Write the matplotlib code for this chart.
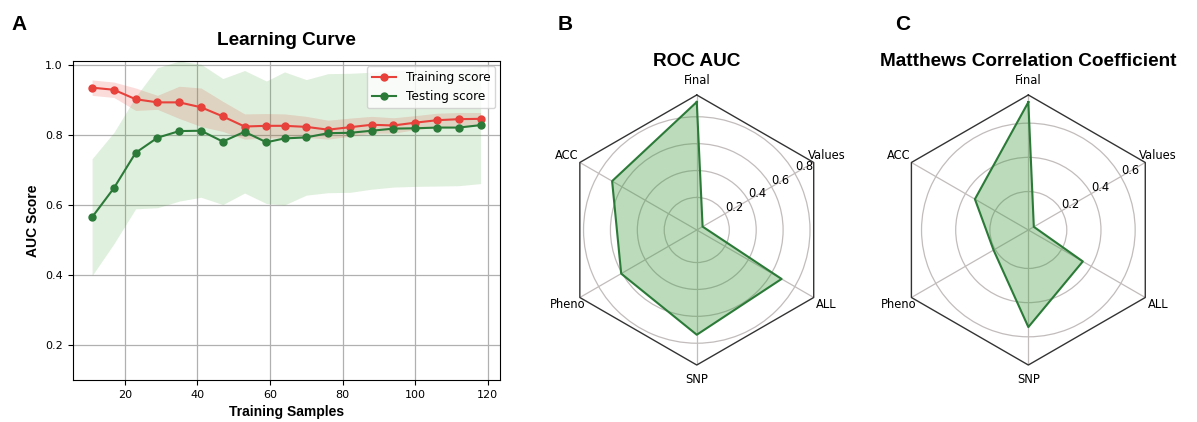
import numpy as np
import matplotlib
matplotlib.use("Agg")
import matplotlib.pyplot as plt

# --- learning curve data ---
train_sizes = [11, 17, 23, 29, 35, 41, 47, 53, 59, 64, 70, 76, 82, 88, 94, 100, 106, 112, 118]
train_mean = [0.935, 0.929, 0.902, 0.893, 0.893, 0.879, 0.853, 0.824, 0.826, 0.826,
              0.823, 0.815, 0.822, 0.829, 0.827, 0.835, 0.842, 0.845, 0.846]
train_std = [0.022, 0.022, 0.032, 0.020, 0.046, 0.055, 0.043, 0.036, 0.035, 0.034,
             0.030, 0.027, 0.026, 0.024, 0.022, 0.020, 0.020, 0.019, 0.018]
test_mean = [0.565, 0.648, 0.749, 0.792, 0.811, 0.812, 0.781, 0.809, 0.779, 0.790,
             0.793, 0.805, 0.806, 0.812, 0.818, 0.819, 0.821, 0.821, 0.828]
test_std = [0.167, 0.159, 0.160, 0.200, 0.200, 0.190, 0.180, 0.175, 0.175, 0.190,
            0.165, 0.170, 0.170, 0.167, 0.167, 0.166, 0.167, 0.166, 0.167]

# --- radar data ---
radar_labels = ["Final", "Values", "ALL", "SNP", "Pheno", "ACC"]
roc_auc = [0.91, 0.008, 0.686, 0.737, 0.607, 0.685]
mcc = [0.723, 0.012, 0.343, 0.543, 0.21, 0.336]

RED = "#e8403a"
GREEN = "#2b7a38"

fig = plt.figure(figsize=(11.97, 4.22), dpi=100)

# ===== A: learning curve =====
ax = fig.add_axes([0.0607, 0.0995, 0.357, 0.755])
tm, ts = np.array(train_mean), np.array(train_std)
vm, vs = np.array(test_mean), np.array(test_std)
ax.fill_between(train_sizes, tm - ts, tm + ts, color="#f03c3c", alpha=0.18, lw=0)
ax.fill_between(train_sizes, vm - vs, vm + vs, color="#4aa83c", alpha=0.17, lw=0)
ax.plot(train_sizes, train_mean, "o-", color=RED, ms=5, lw=1.5, label="Training score")
ax.plot(train_sizes, test_mean, "o-", color=GREEN, ms=5, lw=1.5, label="Testing score")
ax.set_ylim(0.1, 1.01)
ax.grid(True, color="#b0b0b0", lw=0.9)
ax.set_axisbelow(True)
ax.tick_params(labelsize=8)
ax.set_title("Learning Curve", fontsize=13.7, fontweight="bold", family="Liberation Sans", pad=11.5)
ax.set_xlabel("Training Samples", fontsize=10, fontweight="bold", family="Liberation Sans", labelpad=4)
ax.set_ylabel("AUC Score", fontsize=10, fontweight="bold", family="Liberation Sans")
ax.legend(loc="upper right", fontsize=8.7, framealpha=0.8, edgecolor="#cccccc", borderaxespad=0.4)


# ===== B, C: radar charts =====
def radar(rect, values, title, rlim, rticks):
    pax = fig.add_axes(rect, projection="polar")
    n = len(radar_labels)
    theta = np.arange(n) * 2 * np.pi / n
    pax.set_theta_offset(np.pi / 2)
    pax.set_theta_direction(-1)
    pax.set_ylim(*rlim)
    pax.spines["polar"].set_visible(False)
    pax.set_thetagrids(np.degrees(theta), radar_labels, fontsize=8.3)
    pax.tick_params(axis="x", pad=0)
    pax.set_rgrids(rticks, [str(t) for t in rticks], angle=60, fontsize=8.3)
    pax.grid(True, color="#c2bcbc", lw=0.9)
    # hexagon frame
    th = np.append(theta, theta[0])
    pax.plot(th, [rlim[1]] * (n + 1), color="#333333", lw=1.0, clip_on=False, zorder=5)
    v = np.append(values, values[0])
    pax.fill(th, v, color="#3c9a3c", alpha=0.35, lw=0, zorder=3)
    pax.plot(th, v, color=GREEN, lw=1.5, zorder=4)
    pax.set_title(title, fontsize=13.7, fontweight="bold", family="Liberation Sans", pad=5.5)
    return pax


radar([0.4693, 0.135, 0.2256, 0.64], roc_auc, "ROC AUC", (-0.042, 0.962), [0.2, 0.4, 0.6, 0.8])
radar([0.7463, 0.135, 0.2256, 0.64], mcc, "Matthews Correlation Coefficient", (-0.025, 0.765), [0.2, 0.4, 0.6])

# panel letters
for x, letter in [(0.010, "A"), (0.466, "B"), (0.748, "C")]:
    fig.text(x, 0.928, letter, fontsize=15, fontweight="bold",
             family=["Liberation Sans Narrow", "Liberation Sans"])

fig.savefig("out.png", dpi=100)
